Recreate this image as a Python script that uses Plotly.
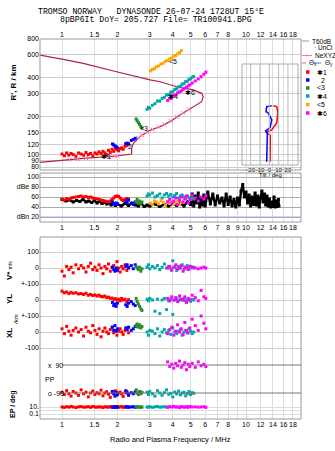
import math
import plotly.graph_objects as go

# ---------------- data ----------------
freq_ticks = [1, 1.5, 2, 3, 4, 5, 6, 7, 8, 10, 12, 14, 16, 18]
freq_ticks_mid = [1, 1.5, 2, 3, 4, 5, 6, 7, 8, 9, 10, 12, 14, 16, 18]
height_ticks = [80, 90, 100, 120, 150, 200, 300, 400, 600, 800]
dbe_ticks = [100, 80, 60, 40, 20]
dbe_labels = ["100", "dBe 80", "60", "40", "dBn 20"]

# echo 1 (red)
f1 = [1.00, 1.03, 1.06, 1.09, 1.12, 1.15, 1.19, 1.23, 1.27, 1.31, 1.35, 1.39, 1.43, 1.47, 1.51, 1.55, 1.59,
      1.63, 1.67, 1.71, 1.75, 1.79, 1.83, 1.87, 1.91, 1.95, 1.99, 2.03, 2.07, 2.11, 2.15, 2.20, 2.25, 2.30]
r1 = [101, 98, 103, 99, 102, 100, 97, 103, 101, 99, 104, 100, 102, 98, 103, 101, 105,
      102, 106, 103, 100, 108, 104, 110, 106, 112, 109, 107, 111, 113, 110, 116, 118, 121]
a1 = [56, 54, 57, 55, 58, 59, 60, 61, 62, 60, 61, 59, 60, 58, 57, 56, 55,
      54, 53, 52, 51, 50, 52, 55, 58, 61, 62, 61, 58, 55, 53, 55, 57, 56]
vz1 = [-20, -50, 10, -10, 5, -30, 20, -5, 15, 0, -25, 10, 30, -10, 5, -15, 20,
       0, -35, 10, -5, 25, -20, 5, 15, -10, 40, 0, -25, 10, -5, 20, -15, 5]
yl1 = [55, 45, 50, 40, 48, 42, 45, 38, 40, 35, 42, 30, 35, 28, 32, 25, 30,
       22, 20, 25, 15, 18, 10, 12, 5, 8, 0, 5, -5, 10, 0, 5, -10, 2]
xl1 = [20, -10, 35, 5, -20, 10, 25, 0, 15, -25, 30, 5, -5, 40, 10, -15, 20,
       -30, 5, 25, 0, -10, 15, 30, -5, 10, -20, 5, 20, 0, -15, 10, 25, -5]
pp1 = [-85, -100, -75, -95, -110, -80, -90, -105, -70, -95, -85, -115, -90, -78, -100, -88, -95,
       -72, -108, -90, -82, -98, -118, -86, -92, -76, -104, -90, -84, -96, -112, -88, -80, -94]
ep1 = [10, 8, 12, 9, 15, 10, 7, 11, 13, 9, 10, 12, 8, 14, 10, 9, 11,
       10, 7, 12, 10, 9, 13, 8, 11, 10, 12, 9, 10, 14, 8, 11, 10, 9]

# echo 2 (blue)
f2 = [1.88, 1.91, 1.94, 1.97, 2.00, 2.22, 2.26, 2.30, 2.38, 2.44, 2.50]
r2 = [121, 119, 117, 115, 113, 122, 123, 121, 129, 131, 134]
a2 = [50, 47, 45, 48, 46, 52, 49, 54, 47, 45, 50]
vz2 = [5, -10, -20, 0, -15, 10, 20, 0, 15, -5, 20]
yl2 = [-15, -35, -25, -40, -20, -30, -40, -20, -10, -25, -35]
xl2 = [30, 10, 40, 5, 20, 25, 15, 30, 10, 20, 35]
pp2 = [-80, -95, -110, -85, -100, -75, -90, -105, -88, -95, -82]
ep2 = [10, 9, 12, 8, 11, 10, 13, 9, 10, 12, 8]

# echo 3 (green)
f3 = [2.53, 2.56, 2.60, 2.64, 2.68, 2.72]
r3 = [190, 184, 178, 172, 166, 162]
a3 = [50, 55, 48, 52, 45, 50]
vz3 = [10, 0, -10, 5, -20, -5]
yl3 = [10, -10, -25, -40, -55, -65]
xl3 = [40, 50, 30, 45, 25, 35]
pp3 = [-70, -90, -100, -80, -95, -85]
ep3 = [10, 12, 9, 11, 8, 10]

# echo 4 (cyan)
f4 = [2.90, 2.95, 3.00, 3.10, 3.20, 3.30, 3.40, 3.50, 3.60, 3.70, 3.80, 3.90, 4.00,
      4.10, 4.20, 4.30, 4.40, 4.50, 4.60, 4.70, 4.80, 4.90, 5.00, 5.10, 5.20]
r4 = [226, 234, 230, 243, 250, 262, 262, 275, 280, 292, 295, 307, 310,
      322, 327, 338, 342, 355, 358, 372, 374, 388, 390, 402, 407]
a4 = [62, 66, 64, 68, 60, 63, 66, 58, 64, 67, 62, 65, 60,
      63, 67, 58, 62, 64, 60, 57, 62, 59, 55, 58, 56]
vz4 = [5, 20, -5, 10, 0, 15, -10, 5, 25, 0, 10, -5, 45,
       5, -15, 10, 0, 20, -10, 5, 15, -5, 10, 0, 5]
yl4 = [5, -5, 10, 0, -70, 5, -85, 0, 10, -60, -5, 5, -90,
       0, 8, -3, 5, 0, 10, -5, 0, 5, -8, 3, 0]
xl4 = [0, -20, 10, 5, -10, 20, -25, 0, 15, -5, 10, -15, 25,
       0, -10, 5, 15, -20, 0, 10, -5, 20, 5, -10, 0]
pp4 = [-85, -100, -80, -95, -110, -75, -90, -105, -88, -70, -98, -92, -115,
       -84, -96, -78, -102, -90, -86, -108, -94, -80, -100, -88, -92]
ep4 = [10, 9, 12, 8, 11, 14, 9, 10, 12, 10, None, None, None,
       None, None, None, None, None, None, None, None, None, None, None, None]

# echo 5 (orange)
f5 = [3.02, 3.10, 3.18, 3.26, 3.35, 3.45, 3.55, 3.65, 3.75, 3.85, 3.95, 4.05, 4.15, 4.25, 4.35, 4.45]
r5 = [452, 462, 470, 485, 493, 510, 518, 536, 544, 560, 568, 587, 594, 612, 626, 650]
a5 = [48, 45, 52, 50, 46, 53, 49, 44, 51, 47, 50, 46, 48, 52, 45, 49]

# echo 6 (magenta)
f6 = [3.75, 3.85, 3.95, 4.05, 4.15, 4.25, 4.35, 4.45, 4.55, 4.65, 4.75, 4.85, 4.95,
      5.10, 5.30, 5.50, 5.70, 5.90, 6.05]
r6 = [265, 274, 276, 290, 293, 304, 309, 314, 323, 330, 336, 344, 351,
      362, 376, 390, 406, 424, 440]
a6 = [50, 55, 48, 52, 58, 45, 54, 60, 50, 56, 62, 48, 55, 64, 58, 52, 60, 56, 62]
vz6 = [0, 10, -15, 5, 20, -5, 0, 15, -20, 5, 0, -10, 10, 5, 0, -5, 0, 5, 0]
yl6 = [10, -5, 20, 0, 15, -10, 25, 5, 0, 20, -15, 10, 0, 30, 15, -5, 60, 20, 10]
xl6 = [-10, 15, 30, -20, 5, 45, 0, 20, -15, 60, 10, -5, 25, 80, 40, 10, 100, 55, 20]
pp6 = [110, 80, 95, 70, 100, 85, 115, 75, 90, 105, 60, 95, 80, 100, 75, 110, 85, 95, 80]
ep6 = [8, 12, 10, 15, 9, 11, 7, 13, 10, 9, 12, 8, 14, 10, 11, 9, 10, 12, 8]

# noise level (black)
fn = [1.00, 1.05, 1.10, 1.15, 1.20, 1.25, 1.30, 1.35, 1.40, 1.45, 1.50, 1.55, 1.60, 1.65, 1.70, 1.75,
      1.80, 1.85, 1.90, 1.95, 2.00, 2.10, 2.20, 2.30, 2.40, 2.50, 2.60, 2.70, 2.80, 2.90, 3.00, 3.20,
      3.40, 3.60, 3.80, 4.00, 4.20, 4.40, 4.60, 4.80, 5.00, 5.10, 5.20, 5.30, 5.40, 5.50, 5.60, 5.70,
      5.80, 5.90, 6.00, 6.20, 6.40, 6.60, 6.80, 7.00, 7.20, 7.40, 7.60, 7.80, 8.00, 8.20, 8.40, 8.60,
      8.80, 9.00, 9.20, 9.40, 9.60, 9.80, 10.0, 10.2, 10.4, 10.6, 10.8, 11.0, 11.2, 11.4, 11.6, 11.8,
      12.0, 12.2, 12.4, 12.6, 12.8, 13.0, 13.2, 13.4, 13.6, 13.8, 14.0, 14.2, 14.4, 14.6, 14.8, 15.0, 15.1]
an = [55, 52, 54, 50, 53, 51, 55, 50, 52, 49, 53, 48, 51, 47, 50, 46,
      48, 44, 47, 43, 46, 42, 47, 43, 48, 44, 42, 46, 41, 44, 42, 46,
      41, 45, 42, 47, 43, 48, 42, 50, 45, 66, 42, 62, 48, 68, 40, 55,
      44, 64, 42, 70, 46, 66, 44, 62, 48, 58, 42, 66, 45, 60, 42, 55,
      40, 58, 44, 72, 85, 60, 70, 48, 64, 42, 60, 45, 68, 44, 62, 40,
      58, 72, 50, 66, 44, 62, 42, 56, 40, 50, 41, 60, 40, 52, 41, 55, 42]

# electron density profile (plasma frequency, real height)
ne_f = [0.753, 1.016, 1.305, 1.98, 2.39, 2.39, 2.44, 2.65, 3.01, 3.41, 3.86, 4.38, 5.17, 5.74,
        5.86, 5.74, 5.17, 4.20, 3.41, 3.01, 1.98, 1.305, 1.016, 0.753]
ne_h = [87, 90.8, 93.5, 97.5, 101, 112, 122, 138, 155, 165, 181, 204, 237, 259,
        283, 301, 320, 339, 371, 383, 444, 516, 555, 600]
nexyz_f = [1.10, 1.22, 1.35, 1.80, 1.92, 2.00, 2.60, 2.72, 2.90, 3.10, 3.35, 3.60, 3.90, 4.20, 4.55, 4.90]
nexyz_h = [91.5, 92.5, 94, 96.5, 97, 97.5, 135, 142, 150, 157, 164, 172, 183, 197, 212, 226]

# tilt profiles
tx_deg = [0.8, 0.9, 1.1, -3.9, 2.6, 7.9, 9.3, 7.9, 4.3]
tx_h = [88, 120, 142, 150, 156, 177, 211, 237, 241]
ty_deg = [-2.8, -2.5, -2.1, -3.9, 0.8, 2.6, -1.1, -3.5, -2.8, 2.6]
ty_h = [88, 120, 148, 154, 162, 187, 211, 217, 237, 241]

# ---------------- layout helpers ----------------
W, H = 335, 451
L, R, T, B = 40, 301, 39, 419


def px(x):
    return (x - L) / (R - L)


def py(y):
    return (B - y) / (B - T)


FONT = "Liberation Sans"
TF = dict(family=FONT, size=7, color="black")
RED, BLUE, GREEN, CYAN, ORANGE, MAG = "#ff0000", "#0000ff", "#2a8a2a", "#00a8a8", "#ffa500", "#ff00ff"

fig = go.Figure()


def pts(x, y, color, xa, ya, size=3):
    fig.add_trace(go.Scatter(x=x, y=y, mode="markers", xaxis=xa, yaxis=ya, showlegend=False,
                             marker=dict(symbol="square", size=size, color=color, line=dict(width=0))))


# profile
fig.add_trace(go.Scatter(x=ne_f, y=ne_h, mode="lines", xaxis="x", yaxis="y", showlegend=False,
                         line=dict(color="#b0204a", width=1.2)))
fig.add_trace(go.Scatter(x=nexyz_f, y=nexyz_h, mode="markers", xaxis="x", yaxis="y", showlegend=False,
                         marker=dict(symbol="x-thin", size=4, line=dict(color="#ff6fae", width=1))))

# noise
fig.add_trace(go.Scatter(x=fn, y=an, mode="lines+markers", xaxis="x2", yaxis="y2", showlegend=False,
                         line=dict(color="black", width=2.4),
                         marker=dict(symbol="square", size=3, color="black")))

groups = [
    (f1, r1, a1, vz1, yl1, xl1, pp1, ep1, RED),
    (f2, r2, a2, vz2, yl2, xl2, pp2, ep2, BLUE),
    (f3, r3, a3, vz3, yl3, xl3, pp3, ep3, GREEN),
    (f4, r4, a4, vz4, yl4, xl4, pp4, ep4, CYAN),
    (f5, r5, a5, None, None, None, None, None, ORANGE),
    (f6, r6, a6, vz6, yl6, xl6, pp6, ep6, MAG),
]
for f, r, a, vz, yl, xl, pp, ep, c in groups:
    pts(f, r, c, "x", "y")
    pts(f, a, c, "x2", "y2")
    if vz is not None:
        pts(f, vz, c, "x3", "y3")
        pts(f, yl, c, "x3", "y4")
        pts(f, xl, c, "x3", "y5")
        pts(f, pp, c, "x3", "y6")
        pts(f, ep, c, "x3", "y7")

# tilt inset
fig.add_trace(go.Scatter(x=tx_deg, y=tx_h, mode="lines", xaxis="x4", yaxis="y", showlegend=False,
                         line=dict(color=RED, width=1.5)))
fig.add_trace(go.Scatter(x=ty_deg, y=ty_h, mode="lines", xaxis="x4", yaxis="y", showlegend=False,
                         line=dict(color=BLUE, width=1.5)))

XR = [(L - 62) / 184, (R - 62) / 184]
xcommon = dict(type="log", range=XR, showgrid=True, gridcolor="#dddddd", tickangle=0,
               gridwidth=1, zeroline=False, showline=False, ticks="", tickfont=TF)

ylin = dict(showgrid=True, gridcolor="#cccccc", zeroline=False, showline=False, ticks="",
            tickfont=TF)
DLOW = [0, py(237)]
minor9 = dict(tickvals=[9], showgrid=True, gridcolor="#dddddd", ticks="")

fig.update_layout(
    width=W, height=H,
    margin=dict(l=L, r=W - R, t=T, b=H - B, pad=0),
    paper_bgcolor="white", plot_bgcolor="rgba(0,0,0,0)",
    showlegend=False,
    xaxis=dict(xcommon, anchor="y", side="top", tickvals=freq_ticks, ticktext=[str(v) for v in freq_ticks],
               minor=minor9),
    yaxis=dict(type="log", domain=[py(170), 1], range=[math.log10(800) - 131 / 128, math.log10(800)],
               tickvals=height_ticks, ticktext=[str(v) for v in height_ticks],
               showgrid=True, gridcolor="#cccccc", zeroline=False, showline=False, ticks="", tickfont=TF),
    xaxis2=dict(xcommon, anchor="y2", matches="x", side="bottom", tickvals=freq_ticks_mid,
                ticktext=[str(v) for v in freq_ticks_mid]),
    yaxis2=dict(ylin, domain=[py(222), py(173)], range=[10, 108], tickvals=dbe_ticks, ticktext=dbe_labels,
                gridcolor="#aaaaaa"),
    xaxis3=dict(xcommon, anchor="y3", matches="x", side="bottom", tickvals=freq_ticks,
                ticktext=[str(v) for v in freq_ticks], minor=minor9),
    yaxis3=dict(ylin, domain=DLOW, range=[-943.75, 193.75], tickvals=[100, 0], ticktext=["100", "0"]),
    yaxis4=dict(ylin, overlaying="y3", anchor="x3", side="left", range=[-743.75, 393.75],
                tickvals=[100, 0, -100], ticktext=["+-100", "0", "+-100"]),
    yaxis5=dict(ylin, overlaying="y3", anchor="x3", side="left", range=[-543.75, 593.75],
                tickvals=[0, -100], ticktext=["0", "-100"]),
    yaxis6=dict(ylin, overlaying="y3", anchor="x3", side="left", range=[-257.14, 912.86],
                showgrid=False, showticklabels=False),
    yaxis7=dict(ylin, type="log", overlaying="y3", anchor="x3", side="left", range=[-2.4286, 49.571],
                tickvals=[10, 0.1], ticktext=["10.", "0.1"], gridcolor="#dddddd",
                minor=dict(tickvals=[1], showgrid=True, gridcolor="#dddddd", ticks="")),
    xaxis4=dict(domain=[px(242), px(298)], range=[-29.3, 30.8], anchor="free", position=py(165),
                tickvals=[-20, -10, 0, 10, 20], ticktext=["-20", "-10", "0", "10", "20"], tickangle=0,
                showgrid=False, zeroline=False, showline=False, ticks="",
                tickfont=dict(family=FONT, size=6, color="black")),
)

shapes = []
# frames
for (x0, y0, x1, y1) in [(L, T, R, 170), (L, 173, R, 222), (L, 237, R, B)]:
    shapes.append(dict(type="rect", xref="paper", yref="paper", x0=px(x0), x1=px(x1), y0=py(y0), y1=py(y1),
                       line=dict(color="#999999", width=1)))
# dBn 20 line
shapes.append(dict(type="line", xref="paper", yref="y2", x0=0, x1=1, y0=20, y1=20,
                   line=dict(color="#a8a8d8", width=1)))
# PP lines
for v in [90, -90]:
    shapes.append(dict(type="line", xref="paper", yref="y6", x0=px(62), x1=1, y0=v, y1=v,
                       line=dict(color="#777777", width=1)))
# inset frame and grid
shapes.append(dict(type="rect", xref="paper", yref="paper", x0=px(242), x1=px(298), y0=py(165), y1=py(64),
                   line=dict(color="#aaaaaa", width=1)))
for v in [-20, -10, 0, 10, 20]:
    shapes.append(dict(type="line", xref="x4", yref="paper", x0=v, x1=v, y0=py(165), y1=py(64),
                       line=dict(color="#bbbbbb", width=1)))
# legend line samples
shapes.append(dict(type="line", xref="paper", yref="paper", x0=px(302), x1=px(309), y0=py(41), y1=py(41),
                   line=dict(color="#999999", width=1)))
shapes.append(dict(type="line", xref="paper", yref="paper", x0=px(302), x1=px(312), y0=py(55.5), y1=py(55.5),
                   line=dict(color="#ff6fae", width=1)))
shapes.append(dict(type="line", xref="paper", yref="paper", x0=px(302), x1=px(306), y0=py(63), y1=py(63),
                   line=dict(color="#ff6060", width=1)))
shapes.append(dict(type="line", xref="paper", yref="paper", x0=px(314), x1=px(321), y0=py(63), y1=py(63),
                   line=dict(color="#6060ff", width=1)))
leg_colors = [RED, BLUE, GREEN, CYAN, ORANGE, MAG]
leg_y = [72, 80, 88, 96, 104.5, 113]
for c, yy in zip(leg_colors, leg_y):
    shapes.append(dict(type="rect", xref="paper", yref="paper", x0=px(306), x1=px(309.5),
                       y0=py(yy + 1.75), y1=py(yy - 1.75), fillcolor=c, line=dict(width=0)))
fig.update_layout(shapes=shapes)

ann = []


def txt(x, y, s, size=7, anchor="left", angle=0, family=FONT, color="black"):
    ann.append(dict(xref="paper", yref="paper", x=px(x), y=py(y), text=s, showarrow=False,
                    xanchor=anchor, yanchor="middle", textangle=angle,
                    font=dict(family=family, size=size, color=color)))


MONO = "Liberation Mono"
txt(35.5, 12, "TROMSO NORWAY   DYNASONDE 26-07-24 1728UT 15°E", size=8.2, family=MONO)
txt(57.5, 20, "8pBP6It DoY= 205.727 File= TR100941.BPG", size=8.2, family=MONO)

txt(12.5, 83, "<b>R', R / km</b>", size=8, anchor="center", angle=-90)
txt(9, 271, "<b>V*</b> <span style='font-size:5px'>m/s</span>", size=8, anchor="center", angle=-90)
txt(9, 299, "<b>YL</b>", size=8, anchor="center", angle=-90)
txt(16, 319, "/km", size=6, anchor="center", angle=-90)
txt(9, 333, "<b>XL</b>", size=8, anchor="center", angle=-90)
txt(13, 404, "<b>EP / deg</b>", size=7, anchor="center", angle=-90)
txt(46, 365, "x  90", size=7)
txt(42.5, 379, "PP", size=7)
txt(45.5, 393, "o -90", size=7)
txt(170.5, 439, "Radio and Plasma Frequency / MHz", size=7.5, anchor="center")
txt(270, 175.5, "Tilt / deg", size=6, anchor="center")

# legend texts
LS = 6.5
txt(309.5, 41, "T60dB", size=LS)
txt(311.5, 48, "· UnCl", size=LS)
txt(307, 55.5, "+", size=LS, color="#ff6fae", anchor="center")
txt(312.5, 55.5, "NeXYZ", size=LS)
txt(306.5, 63, "Θ<sub>x</sub>", size=LS)
txt(322.5, 63, "Θ<sub>y</sub>", size=LS)
leg_names = ["✱1", "  2", "<3", "✱4", "<5", "✱6"]
for n, yy in zip(leg_names, leg_y):
    txt(314.5, yy, n, size=7)

# echo labels in ionogram
echo_lab = [("✱1", 1.73, 96), ("2", 2.34, 116), ("<3", 2.80, 161), ("✱4", 4.03, 283), ("<5", 4.03, 533),
            ("✱6", 4.96, 305)]
for s, f, h in echo_lab:
    ann.append(dict(xref="x", yref="y", x=math.log10(f), y=math.log10(h), text=s, showarrow=False,
                    xanchor="center", yanchor="middle", font=dict(family=FONT, size=7, color="black")))

fig.update_layout(annotations=ann)
fig.write_html("out.html")
